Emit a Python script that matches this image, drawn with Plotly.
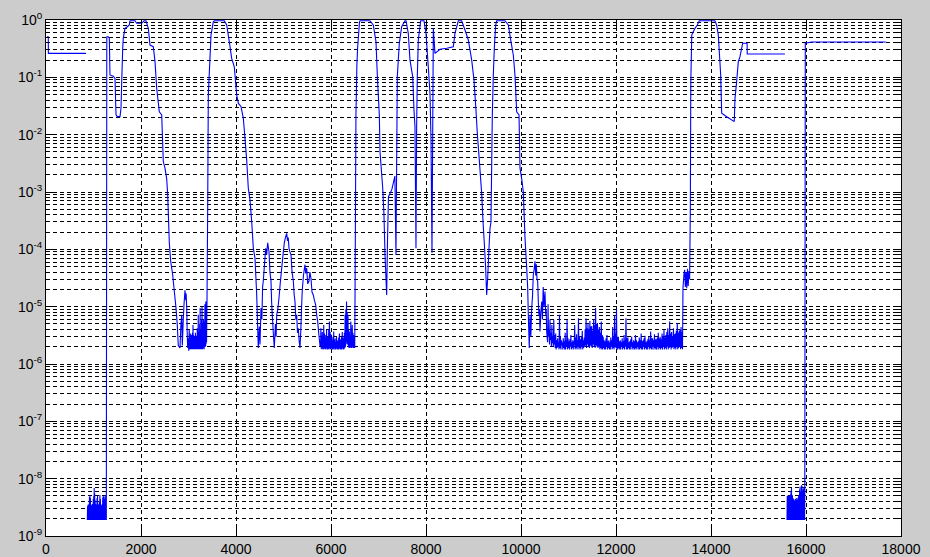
import plotly.graph_objects as go

# ---------------- data ----------------
seg1_x = [20, 48, 50, 842]
seg1_y = [0.51, 0.51, 0.262, 0.262]

# low noise block near 1e-9 (bottom samples and top samples)
noise1_lo_x = [870, 880, 890, 900, 910, 920, 930, 940, 950, 960,
               970, 980, 990, 1000, 1010, 1020, 1030, 1040, 1050, 1060,
               1070, 1080, 1090, 1100, 1110, 1120, 1130, 1140, 1150, 1160,
               1170, 1180, 1190, 1200, 1210, 1220, 1230, 1240, 1250, 1260, 1270]
noise1_lo_y = [1.9e-9, 1.9e-9, 2.0e-9, 1.9e-9, 1.9e-9, 2.0e-9, 1.9e-9, 1.9e-9, 1.9e-9, 2.0e-9,
               1.9e-9, 1.9e-9, 2.0e-9, 1.9e-9, 1.9e-9, 1.9e-9, 2.0e-9, 1.9e-9, 1.9e-9, 1.9e-9,
               2.0e-9, 1.9e-9, 1.9e-9, 1.9e-9, 2.0e-9, 1.9e-9, 1.9e-9, 1.9e-9, 2.0e-9, 1.9e-9,
               1.9e-9, 1.9e-9, 2.0e-9, 1.9e-9, 1.9e-9, 1.9e-9, 2.0e-9, 1.9e-9, 1.9e-9, 1.9e-9, 1.9e-9]
noise1_hi_x = [875, 885, 895, 905, 915, 925, 935, 945, 955, 965,
               975, 985, 995, 1005, 1015, 1025, 1035, 1045, 1055, 1065,
               1075, 1085, 1095, 1105, 1115, 1125, 1135, 1145, 1155, 1165,
               1175, 1185, 1195, 1205, 1215, 1225, 1235, 1245, 1255, 1265]
noise1_hi_y = [3.3e-9, 3.5e-9, 3.4e-9, 3.6e-9, 4.8e-9, 5.2e-9, 4.6e-9, 3.5e-9, 3.4e-9, 3.3e-9,
               3.6e-9, 3.5e-9, 4.4e-9, 5.0e-9, 6.9e-9, 5.5e-9, 4.2e-9, 3.6e-9, 3.3e-9, 3.5e-9,
               4.6e-9, 5.0e-9, 3.6e-9, 3.4e-9, 3.5e-9, 4.0e-9, 5.2e-9, 4.4e-9, 3.5e-9, 3.4e-9,
               3.3e-9, 3.6e-9, 4.7e-9, 5.0e-9, 4.8e-9, 3.6e-9, 4.4e-9, 5.2e-9, 4.6e-9, 3.5e-9]

hump1_x = [1280, 1310, 1333, 1347, 1417, 1453, 1474, 1501, 1558, 1579,
           1594, 1615, 1627, 1663, 1712, 1754, 1768, 1874, 1909, 2015,
           2063, 2105, 2154, 2189, 2259, 2295, 2331, 2385, 2436, 2469,
           2505, 2541, 2562, 2596, 2625, 2667, 2695, 2737, 2764, 2785, 2821]
hump1_y = [0.51, 0.51, 0.48, 0.11, 0.105, 0.096, 0.0221, 0.0206, 0.0206, 0.0288,
           0.084, 0.321, 0.48, 0.716, 0.764, 0.818, 0.97, 0.97, 0.875, 0.875,
           0.97, 0.97, 0.716, 0.366, 0.342, 0.188, 0.064, 0.025, 0.0221, 0.0034,
           0.0026, 0.0017, 0.00089, 0.00013, 6.2e-5, 3.6e-5, 2.1e-5, 9.5e-6, 4.8e-6, 2.1e-6, 1.9e-6]

noise2a_x = [2840, 2857, 2870, 2890, 2905, 2926, 2941, 2950, 2962, 2975, 2983, 2996, 3005, 3015]
noise2a_y = [4.8e-6, 7.2e-6, 2.1e-6, 6.0e-6, 1.08e-5, 1.94e-5, 1.3e-5, 1.7e-5, 9.5e-6, 3.0e-6,
             1.9e-6, 2.8e-6, 1.7e-6, 3.9e-6]
noise2_lo_x = [3030, 3040, 3050, 3060, 3070, 3080, 3090, 3100, 3110, 3120,
               3130, 3140, 3150, 3160, 3170, 3180, 3190, 3200, 3210, 3220,
               3230, 3240, 3250, 3260, 3270, 3280, 3290, 3300, 3310, 3320,
               3330, 3340, 3350, 3360, 3370, 3380]
noise2_lo_y = [1.8e-6, 1.8e-6, 1.8e-6, 1.9e-6, 1.8e-6, 1.8e-6, 1.8e-6, 1.9e-6, 1.8e-6, 1.8e-6,
               1.8e-6, 1.9e-6, 1.8e-6, 1.8e-6, 1.8e-6, 1.9e-6, 1.8e-6, 1.8e-6, 1.9e-6, 1.8e-6,
               2.0e-6, 1.8e-6, 1.9e-6, 1.8e-6, 2.0e-6, 1.8e-6, 2.0e-6, 1.8e-6, 1.9e-6, 2.0e-6,
               1.8e-6, 2.0e-6, 2.2e-6, 2.0e-6, 2.2e-6, 2.4e-6]
noise2_hi_x = [3035, 3045, 3055, 3065, 3075, 3085, 3095, 3105, 3115, 3125,
               3135, 3145, 3155, 3165, 3175, 3185, 3195, 3205, 3215, 3225,
               3235, 3245, 3255, 3265, 3275, 3285, 3295, 3305, 3315, 3325,
               3335, 3345, 3355, 3365, 3375]
noise2_hi_y = [3.0e-6, 3.4e-6, 2.8e-6, 3.2e-6, 2.9e-6, 3.5e-6, 4.8e-6, 3.2e-6, 2.6e-6, 3.0e-6,
               2.7e-6, 3.5e-6, 2.9e-6, 3.1e-6, 2.8e-6, 4.2e-6, 3.4e-6, 7.2e-6, 3.6e-6, 3.0e-6,
               5.0e-6, 9.5e-6, 4.0e-6, 3.5e-6, 6.0e-6, 1.0e-5, 5.0e-6, 4.0e-6, 6.0e-6, 4.5e-6,
               5.5e-6, 1.1e-5, 6.5e-6, 1.23e-5, 8.0e-6]

hump2_x = [3390, 3404, 3417, 3452, 3474, 3522, 3543, 3754, 3804, 3859, 3909,
           3964, 4015, 4050, 4105, 4154, 4189, 4225, 4259, 4295, 4331,
           4365, 4400, 4436, 4469]
hump2_y = [1.5e-5, 0.00053, 0.049, 0.214, 0.547, 0.93, 0.97, 0.97, 0.818, 0.419, 0.214,
           0.153, 0.049, 0.035, 0.031, 0.0193, 0.0087, 0.0036, 0.00116, 0.00072, 0.00030,
           0.000104, 7.0e-5, 1.6e-5, 1.9e-6]

osc_x = [4490, 4505, 4526, 4545, 4560, 4575, 4600, 4625, 4645, 4667,
         4680, 4695, 4715, 4737, 4750, 4764, 4785, 4806, 4830, 4845,
         4857, 4880, 4905, 4930, 4962, 4990, 5017, 5040, 5067, 5085,
         5100, 5116, 5135, 5158, 5180, 5207, 5225, 5242, 5260, 5278,
         5295, 5312, 5330, 5347, 5365, 5380, 5396, 5420, 5452, 5470,
         5488, 5510, 5537, 5555, 5579, 5600, 5627, 5650, 5677, 5700,
         5720, 5745, 5768]
osc_y = [4.5e-6, 2.2e-6, 9.5e-6, 6e-6, 2.2e-5, 2.8e-5, 5.5e-5, 1.04e-4, 8e-5, 1.3e-4,
         1.1e-4, 9.1e-5, 4.0e-5, 2.8e-5, 1.2e-5, 7.2e-6, 3.5e-6, 1.9e-6, 5.0e-6, 3.0e-6,
         7.2e-6, 9.0e-6, 1.42e-5, 2.5e-5, 4.7e-5, 8.0e-5, 1.3e-4, 1.6e-4, 1.9e-4, 1.4e-4,
         1.6e-4, 1.04e-4, 9.0e-5, 8.0e-5, 4.0e-5, 2.8e-5, 1.6e-5, 1.23e-5, 6.0e-6, 7.2e-6,
         3.5e-6, 4.2e-6, 2.5e-6, 1.9e-6, 4.0e-6, 9.5e-6, 2.0e-5, 3.5e-5, 5.4e-5, 3.8e-5,
         4.7e-5, 2.5e-5, 2.8e-5, 4.0e-5, 3.1e-5, 1.8e-5, 1.6e-5, 1.3e-5, 1.08e-5, 7e-6,
         5.5e-6, 3.2e-6, 2.1e-6]

noise3_lo_x = [5780, 5795, 5810, 5825, 5840, 5855, 5870, 5885, 5900, 5915,
               5930, 5945, 5960, 5975, 5990, 6005, 6020, 6035, 6050, 6065,
               6080, 6095, 6110, 6125, 6140, 6155, 6170, 6185, 6200, 6215,
               6230, 6245, 6260, 6275, 6290, 6305, 6320, 6335, 6350, 6365,
               6380, 6395, 6410, 6425, 6440, 6455, 6470, 6485, 6500]
noise3_lo_y = [2.1e-6, 1.8e-6, 1.9e-6, 1.8e-6, 1.8e-6, 1.9e-6, 1.8e-6, 1.8e-6, 1.9e-6, 1.8e-6,
               1.8e-6, 1.8e-6, 1.9e-6, 1.8e-6, 1.8e-6, 1.9e-6, 1.8e-6, 1.8e-6, 1.8e-6, 1.9e-6,
               1.8e-6, 1.8e-6, 1.8e-6, 1.9e-6, 1.8e-6, 1.8e-6, 1.8e-6, 1.9e-6, 1.8e-6, 1.8e-6,
               1.8e-6, 1.9e-6, 1.8e-6, 1.8e-6, 1.9e-6, 2.0e-6, 2.2e-6, 2.4e-6, 2.2e-6, 2.0e-6,
               1.9e-6, 1.9e-6, 2.0e-6, 1.9e-6, 1.9e-6, 2.0e-6, 1.9e-6, 1.9e-6, 1.9e-6]
noise3_hi_x = [5787, 5802, 5817, 5832, 5847, 5862, 5877, 5892, 5907, 5922,
               5937, 5952, 5967, 5982, 5997, 6012, 6027, 6042, 6057, 6072,
               6087, 6102, 6117, 6132, 6147, 6162, 6177, 6192, 6207, 6222,
               6237, 6252, 6267, 6282, 6297, 6312, 6327, 6342, 6357, 6372,
               6387, 6402, 6417, 6432, 6447, 6462, 6477, 6492]
noise3_hi_y = [4.2e-6, 3.0e-6, 3.6e-6, 2.8e-6, 4.8e-6, 3.4e-6, 3.2e-6, 2.9e-6, 3.9e-6, 3.0e-6,
               2.9e-6, 4.0e-6, 5.5e-6, 3.6e-6, 3.3e-6, 2.8e-6, 2.6e-6, 3.0e-6, 3.7e-6, 2.7e-6,
               2.4e-6, 2.8e-6, 3.0e-6, 2.6e-6, 2.5e-6, 2.9e-6, 3.4e-6, 2.6e-6, 2.7e-6, 3.0e-6,
               3.6e-6, 2.8e-6, 2.9e-6, 3.5e-6, 7.2e-6, 9.0e-6, 1.23e-5, 8.0e-6, 7.2e-6, 4.0e-6,
               3.7e-6, 3.0e-6, 5.5e-6, 4.2e-6, 4.8e-6, 3.5e-6, 3.2e-6, 3.0e-6]

hump3_x = [6515, 6525, 6545, 6560, 6600, 6615, 6820, 6890, 6947, 6975,
           7017, 7032, 7088, 7115, 7137, 7172, 7190, 7210, 7280, 7345,
           7368, 7396, 7438, 7488, 7558, 7580, 7627, 7663, 7720, 7747,
           7768, 7789, 7803, 7817, 7838, 7888, 7905, 7958, 8000, 8048,
           8084, 8105, 8126, 8154, 8189, 8295, 8436, 8575, 8610, 8680,
           8705, 8751, 8821, 8891, 8962, 9010, 9052, 9080, 9122, 9172,
           9206, 9227, 9256, 9277, 9298, 9326, 9347, 9368, 9383, 9396,
           9417, 9438, 9467, 9488, 9663, 9733, 9789, 9838, 9873, 9909,
           9958, 9979, 10015, 10048, 10084, 10120, 10141, 10154, 10174]
hump3_y = [4.0e-4, 0.0221, 0.164, 0.321, 0.93, 0.97, 0.97, 0.818, 0.419, 0.110,
           0.0221, 0.0050, 0.0012, 0.00040, 8.0e-5, 1.6e-5, 1.5e-4, 8.3e-4, 1.1e-3, 1.9e-3,
           8.0e-5, 0.103, 0.392, 0.764, 0.97, 0.97, 0.586, 0.2, 0.103, 0.027,
           0.0137, 1.04e-4, 0.0137, 0.103, 0.448, 0.97, 0.97, 0.97, 0.586, 0.153,
           0.0527, 0.0082, 8.7e-5, 0.716, 0.262, 0.308, 0.321, 0.342, 0.586, 0.97,
           0.97, 0.97, 0.669, 0.448, 0.2, 0.090, 0.027, 0.0106, 0.0036, 0.00095,
           0.00025, 0.00013, 4.7e-5, 1.6e-5, 3.1e-5, 1.04e-4, 0.00023, 0.00030, 0.0030, 0.0221,
           0.110, 0.321, 0.818, 0.97, 0.97, 0.818, 0.419, 0.245, 0.110, 0.025,
           0.0221, 0.0026, 0.0017, 0.00101, 0.00016, 4.7e-5, 2.1e-5, 7.2e-6, 1.9e-6]

post_x = [10189, 10207, 10225, 10242, 10259, 10277, 10295, 10310, 10323, 10337,
          10351, 10365, 10378, 10390, 10400, 10418, 10436, 10452, 10467, 10485,
          10505, 10520, 10530, 10540]
post_y = [7.2e-6, 3.0e-6, 9.5e-6, 1.5e-5, 3.6e-5, 4.5e-5, 6.2e-5, 3.5e-5, 5.5e-5, 3.0e-5,
          2.8e-5, 1.2e-5, 7.2e-6, 9e-6, 3.7e-6, 8e-6, 1.23e-5, 6e-6, 2.2e-5, 1.0e-5,
          1.83e-5, 7.2e-6, 9.0e-6, 3.7e-6]

# long noise floor, 10560..13400 (bottom samples and top samples)
floor_lo_x = [10560, 10580, 10600, 10620, 10640, 10660, 10680, 10700, 10720, 10740,
              10760, 10780, 10800, 10820, 10840, 10860, 10880, 10900, 10920, 10940,
              10960, 10980, 11000, 11020, 11040, 11060, 11080, 11100, 11120, 11140,
              11160, 11180, 11200, 11220, 11240, 11260, 11280, 11300, 11320, 11340,
              11360, 11380, 11400, 11420, 11440, 11460, 11480, 11500, 11520, 11540,
              11560, 11580, 11600, 11620, 11640, 11660, 11680, 11700, 11720, 11740,
              11760, 11780, 11800, 11820, 11840, 11860, 11880, 11900, 11920, 11940,
              11960, 11980, 12000, 12020, 12040, 12060, 12080, 12100, 12120, 12140,
              12160, 12180, 12200, 12220, 12240, 12260, 12280, 12300, 12320, 12340,
              12360, 12380, 12400, 12420, 12440, 12460, 12480, 12500, 12520, 12540,
              12560, 12580, 12600, 12620, 12640, 12660, 12680, 12700, 12720, 12740,
              12760, 12780, 12800, 12820, 12840, 12860, 12880, 12900, 12920, 12940,
              12960, 12980, 13000, 13020, 13040, 13060, 13080, 13100, 13120, 13140,
              13160, 13180, 13200, 13220, 13240, 13260, 13280, 13300, 13320, 13340,
              13360, 13380, 13400]
floor_lo_y = [2.4e-6, 3.0e-6, 2.2e-6, 2.6e-6, 2.0e-6, 2.3e-6, 2.0e-6, 2.2e-6, 1.9e-6, 1.8e-6,
              1.9e-6, 2.0e-6, 1.8e-6, 1.9e-6, 1.8e-6, 2.1e-6, 1.8e-6, 1.9e-6, 1.8e-6, 1.8e-6,
              2.0e-6, 1.8e-6, 1.9e-6, 1.8e-6, 2.0e-6, 1.8e-6, 1.9e-6, 1.8e-6, 2.1e-6, 1.8e-6,
              1.9e-6, 1.8e-6, 2.0e-6, 1.8e-6, 1.9e-6, 1.8e-6, 2.0e-6, 1.8e-6, 1.9e-6, 2.0e-6,
              2.1e-6, 1.9e-6, 2.2e-6, 2.0e-6, 1.9e-6, 2.1e-6, 2.0e-6, 1.9e-6, 2.2e-6, 2.0e-6,
              1.9e-6, 2.1e-6, 2.0e-6, 1.9e-6, 2.0e-6, 1.8e-6, 1.9e-6, 1.8e-6, 1.8e-6, 1.9e-6,
              1.8e-6, 1.8e-6, 2.0e-6, 1.8e-6, 1.9e-6, 1.8e-6, 1.8e-6, 2.0e-6, 1.8e-6, 1.9e-6,
              1.8e-6, 2.0e-6, 1.9e-6, 1.8e-6, 1.8e-6, 1.9e-6, 1.8e-6, 1.8e-6, 2.0e-6, 1.8e-6,
              1.9e-6, 1.8e-6, 2.0e-6, 1.8e-6, 1.8e-6, 1.9e-6, 1.8e-6, 1.8e-6, 2.0e-6, 1.8e-6,
              1.9e-6, 1.8e-6, 1.8e-6, 1.9e-6, 1.8e-6, 2.0e-6, 1.8e-6, 1.8e-6, 1.9e-6, 1.8e-6,
              1.8e-6, 2.0e-6, 1.8e-6, 1.9e-6, 1.8e-6, 1.8e-6, 2.0e-6, 1.8e-6, 1.9e-6, 1.8e-6,
              1.8e-6, 2.0e-6, 1.8e-6, 1.9e-6, 1.8e-6, 1.8e-6, 2.0e-6, 1.8e-6, 1.9e-6, 1.8e-6,
              1.9e-6, 1.8e-6, 2.0e-6, 1.8e-6, 1.9e-6, 1.8e-6, 2.0e-6, 1.8e-6, 1.9e-6, 2.0e-6,
              1.8e-6, 1.9e-6, 2.0e-6, 1.8e-6, 1.9e-6, 1.8e-6, 2.0e-6, 1.8e-6, 1.9e-6, 2.0e-6,
              1.8e-6, 1.9e-6, 1.8e-6]
floor_hi_x = [10570, 10590, 10610, 10630, 10650, 10670, 10690, 10710, 10730, 10750,
              10770, 10790, 10810, 10830, 10850, 10870, 10890, 10910, 10930, 10950,
              10970, 10990, 11010, 11030, 11050, 11070, 11090, 11110, 11130, 11150,
              11170, 11190, 11210, 11230, 11250, 11270, 11290, 11310, 11330, 11350,
              11370, 11390, 11410, 11430, 11450, 11470, 11490, 11510, 11530, 11550,
              11570, 11590, 11610, 11630, 11650, 11670, 11690, 11710, 11730, 11750,
              11770, 11790, 11810, 11830, 11850, 11870, 11890, 11910, 11930, 11950,
              11970, 11990, 12010, 12030, 12050, 12070, 12090, 12110, 12130, 12150,
              12170, 12190, 12210, 12230, 12250, 12270, 12290, 12310, 12330, 12350,
              12370, 12390, 12410, 12430, 12450, 12470, 12490, 12510, 12530, 12550,
              12570, 12590, 12610, 12630, 12650, 12670, 12690, 12710, 12730, 12750,
              12770, 12790, 12810, 12830, 12850, 12870, 12890, 12910, 12930, 12950,
              12970, 12990, 13010, 13030, 13050, 13070, 13090, 13110, 13130, 13150,
              13170, 13190, 13210, 13230, 13250, 13270, 13290, 13310, 13330, 13350,
              13370, 13390]
floor_hi_y = [1.1e-5, 4.0e-6, 6.0e-6, 3.5e-6, 4.8e-6, 3.0e-6, 5.9e-6, 3.2e-6, 3.4e-6, 2.6e-6,
              2.8e-6, 2.4e-6, 7.2e-6, 3.0e-6, 2.6e-6, 2.4e-6, 2.8e-6, 2.5e-6, 3.5e-6, 2.6e-6,
              5.9e-6, 2.8e-6, 2.5e-6, 2.7e-6, 3.2e-6, 2.4e-6, 2.6e-6, 2.5e-6, 4.8e-6, 2.9e-6,
              3.3e-6, 2.6e-6, 6.3e-6, 3.0e-6, 2.7e-6, 3.0e-6, 3.8e-6, 2.6e-6, 2.9e-6, 4.0e-6,
              6.2e-6, 4.2e-6, 5.0e-6, 4.0e-6, 5.6e-6, 4.5e-6, 4.6e-6, 3.8e-6, 6.0e-6, 4.8e-6,
              9.5e-6, 5.0e-6, 5.2e-6, 4.0e-6, 4.4e-6, 3.5e-6, 5.5e-6, 3.2e-6, 3.0e-6, 2.6e-6,
              2.5e-6, 2.8e-6, 3.2e-6, 2.5e-6, 2.6e-6, 2.4e-6, 2.9e-6, 2.6e-6, 4.4e-6, 3.0e-6,
              7.0e-6, 3.4e-6, 9.0e-6, 3.0e-6, 3.0e-6, 2.5e-6, 2.6e-6, 2.4e-6, 2.8e-6, 2.5e-6,
              3.2e-6, 2.6e-6, 6.3e-6, 2.8e-6, 2.9e-6, 2.4e-6, 2.5e-6, 2.7e-6, 3.0e-6, 2.4e-6,
              2.6e-6, 2.5e-6, 3.2e-6, 2.6e-6, 2.4e-6, 2.5e-6, 2.9e-6, 2.6e-6, 3.4e-6, 2.5e-6,
              2.6e-6, 2.8e-6, 3.1e-6, 2.4e-6, 2.5e-6, 2.7e-6, 3.0e-6, 2.6e-6, 3.7e-6, 2.8e-6,
              2.8e-6, 2.6e-6, 3.3e-6, 2.7e-6, 2.7e-6, 2.9e-6, 3.5e-6, 2.8e-6, 3.0e-6, 2.7e-6,
              3.4e-6, 3.0e-6, 3.9e-6, 2.9e-6, 3.2e-6, 3.6e-6, 4.2e-6, 3.2e-6, 5.5e-6, 3.4e-6,
              3.6e-6, 3.0e-6, 4.2e-6, 3.3e-6, 3.4e-6, 3.8e-6, 5.2e-6, 3.5e-6, 3.8e-6, 4.0e-6,
              4.4e-6, 3.6e-6]

hump4_x = [13410, 13430, 13445, 13460, 13475, 13490, 13505, 13520, 13535, 13550,
           13565, 13575, 13595, 13627, 13663, 13712, 13754, 14083, 14118, 14154,
           14175, 14204, 14225, 14330, 14490, 14505, 14540, 14575, 14610, 14667,
           14760, 14763, 15556]
hump4_y = [2.1e-5, 3.6e-5, 4.4e-5, 2.2e-5, 4.0e-5, 2.1e-5, 4.6e-5, 2.3e-5, 4.2e-5, 3.0e-5,
           5.3e-4, 0.084, 0.547, 0.625, 0.716, 0.818, 0.97, 0.97, 0.818, 0.547,
           0.280, 0.110, 0.0236, 0.0206, 0.0169, 0.043, 0.084, 0.188, 0.229, 0.392,
           0.392, 0.255, 0.255]

# second low noise block near 1e-9
noise4_lo_x = [15600, 15610, 15620, 15630, 15640, 15650, 15660, 15670, 15680, 15690,
               15700, 15710, 15720, 15730, 15740, 15750, 15760, 15770, 15780, 15790,
               15800, 15810, 15820, 15830, 15840, 15850, 15860, 15870, 15880, 15890,
               15900, 15910, 15920, 15930, 15940, 15950, 15960, 15970]
noise4_lo_y = [1.9e-9, 1.9e-9, 2.0e-9, 1.9e-9, 1.9e-9, 1.9e-9, 2.0e-9, 1.9e-9, 1.9e-9, 1.9e-9,
               2.0e-9, 1.9e-9, 1.9e-9, 1.9e-9, 2.0e-9, 1.9e-9, 1.9e-9, 1.9e-9, 2.0e-9, 1.9e-9,
               1.9e-9, 1.9e-9, 2.0e-9, 1.9e-9, 1.9e-9, 1.9e-9, 2.0e-9, 1.9e-9, 1.9e-9, 1.9e-9,
               2.0e-9, 1.9e-9, 1.9e-9, 1.9e-9, 2.0e-9, 1.9e-9, 1.9e-9, 1.9e-9]
noise4_hi_x = [15605, 15615, 15625, 15635, 15645, 15655, 15665, 15675, 15685, 15695,
               15705, 15715, 15725, 15735, 15745, 15755, 15765, 15775, 15785, 15795,
               15805, 15815, 15825, 15835, 15845, 15855, 15865, 15875, 15885, 15895,
               15905, 15915, 15925, 15935, 15945, 15955, 15965, 15975]
noise4_hi_y = [5.0e-9, 4.8e-9, 5.2e-9, 5.0e-9, 4.9e-9, 5.1e-9, 5.0e-9, 5.3e-9, 6.0e-9, 6.9e-9,
               5.2e-9, 5.1e-9, 4.6e-9, 4.4e-9, 3.4e-9, 4.1e-9, 4.3e-9, 4.4e-9, 3.6e-9, 4.6e-9,
               4.2e-9, 3.5e-9, 4.5e-9, 4.7e-9, 5.0e-9, 5.2e-9, 6.5e-9, 7.2e-9, 6.0e-9, 5.8e-9,
               7.7e-9, 7.5e-9, 6.2e-9, 6.0e-9, 6.6e-9, 7.0e-9, 6.8e-9, 6.5e-9]

tail_x = [15985, 16119, 17680]
tail_y = [0.392, 0.413, 0.413]

x_ticks = [0, 2000, 4000, 6000, 8000, 10000, 12000, 14000, 16000, 18000]
x_labels = ["0", "2000", "4000", "6000", "8000", "10000", "12000", "14000", "16000", "18000"]
y_exponents = [-9, -8, -7, -6, -5, -4, -3, -2, -1, 0]
minor_mantissas = [2, 3, 4, 5, 6, 7, 8, 9]


def interleave(lo_x, lo_y, hi_x, hi_y):
    """Merge bottom and top samples in x order (lo, hi, lo, hi, ...)."""
    ox, oy = [], []
    for i in range(len(lo_x)):
        ox.append(lo_x[i]); oy.append(lo_y[i])
        if i < len(hi_x):
            ox.append(hi_x[i]); oy.append(hi_y[i])
    return ox, oy


n1x, n1y = interleave(noise1_lo_x, noise1_lo_y, noise1_hi_x, noise1_hi_y)
n2x, n2y = interleave(noise2_lo_x, noise2_lo_y, noise2_hi_x, noise2_hi_y)
n3x, n3y = interleave(noise3_lo_x, noise3_lo_y, noise3_hi_x, noise3_hi_y)
flx, fly = interleave(floor_lo_x, floor_lo_y, floor_hi_x, floor_hi_y)
n4x, n4y = interleave(noise4_lo_x, noise4_lo_y, noise4_hi_x, noise4_hi_y)

xs = (seg1_x + [None] + n1x + hump1_x + noise2a_x + n2x + hump2_x + osc_x + n3x
      + hump3_x + post_x + flx + hump4_x + [None] + n4x + tail_x)
ys = (seg1_y + [None] + n1y + hump1_y + noise2a_y + n2y + hump2_y + osc_y + n3y
      + hump3_y + post_y + fly + hump4_y + [None] + n4y + tail_y)

y_tickvals = [10.0 ** e for e in y_exponents]
y_ticktext = ["10<sup>%d</sup>" % e for e in y_exponents]
y_minor = [m * 10.0 ** e for e in y_exponents[:-1] for m in minor_mantissas]

fig = go.Figure()
fig.add_trace(go.Scatter(x=xs, y=ys, mode="lines", connectgaps=False,
                         line=dict(color="#0000ff", width=1.1, simplify=False),
                         hoverinfo="skip", showlegend=False))

grid_dash = "4px,3px"
fig.update_layout(
    width=930, height=557,
    paper_bgcolor="#cccccc", plot_bgcolor="#ffffff",
    margin=dict(l=46, r=29, t=20, b=21, autoexpand=False),
    font=dict(family="Liberation Sans, Arial, sans-serif", size=14, color="#000000"),
    showlegend=False,
    xaxis=dict(range=[0, 18000], tickmode="array", tickvals=x_ticks, ticktext=x_labels,
               ticks="inside", ticklen=8, tickcolor="#000000", tickwidth=1,
               showline=True, linecolor="#000000", linewidth=1, mirror="ticks",
               showgrid=True, gridcolor="#000000", gridwidth=1, griddash=grid_dash,
               zeroline=False, automargin=False),
    yaxis=dict(type="log", range=[-9, 0], tickmode="array", tickvals=y_tickvals,
               ticktext=y_ticktext, ticks="inside", ticklen=8, tickcolor="#000000",
               tickwidth=1, showline=True, linecolor="#000000", linewidth=1, mirror="ticks",
               showgrid=True, gridcolor="#000000", gridwidth=1, griddash=grid_dash,
               zeroline=False, automargin=False,
               minor=dict(tickmode="array", tickvals=y_minor, ticks="inside", ticklen=4,
                          tickcolor="#000000", showgrid=True, gridcolor="#000000",
                          gridwidth=1, griddash=grid_dash)),
)

fig.write_html("out.html", config={"displayModeBar": False},
               post_script="document.body.style.margin='0px';document.body.style.padding='0px';")
